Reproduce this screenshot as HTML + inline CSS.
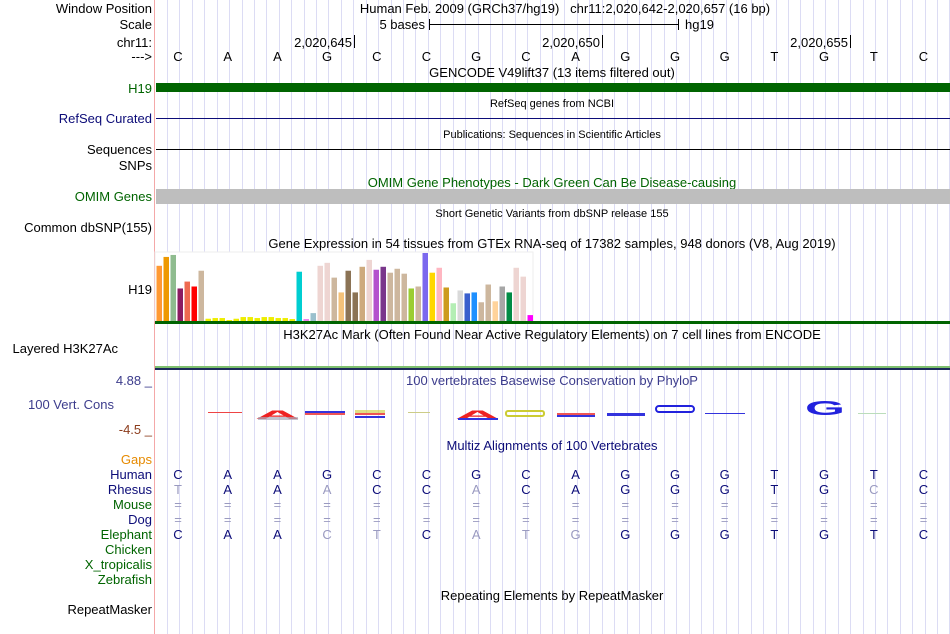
<!DOCTYPE html>
<html><head><meta charset="utf-8"><style>
body{margin:0;background:#fff;}
svg{display:block;font-family:"Liberation Sans",sans-serif;}
.l{font-size:13px;text-anchor:end;}
.t{font-size:13px;text-anchor:middle;}
.s{font-size:11px;text-anchor:middle;}
.b{font-size:13px;text-anchor:middle;}
</style></head><body>
<svg id="c" width="950" height="634">
<g id="grid"></g>
<line x1="154.5" y1="0" x2="154.5" y2="634" stroke="#f4a8a8"/>
<g>
<text class="l" x="152" y="13">Window Position</text>
<text class="l" x="152" y="29">Scale</text>
<text class="l" x="152" y="47">chr11:</text>
<text class="l" x="152" y="61">---&gt;</text>
<text class="l" x="152" y="93" fill="#006400">H19</text>
<text class="l" x="152" y="123" fill="#0c0c78">RefSeq Curated</text>
<text class="l" x="152" y="154">Sequences</text>
<text class="l" x="152" y="170">SNPs</text>
<text class="l" x="152" y="201" fill="#006400">OMIM Genes</text>
<text class="l" x="152" y="232">Common dbSNP(155)</text>
<text class="l" x="152" y="294">H19</text>
<text class="l" x="118" y="353">Layered H3K27Ac</text>
<text class="l" x="152" y="385" fill="#3c3c8c">4.88 _</text>
<text class="l" x="114" y="409" fill="#3c3c8c">100 Vert. Cons</text>
<text class="l" x="152" y="434" fill="#8c3c1c">-4.5 _</text>
<text class="l" x="152" y="464" fill="#e68a00">Gaps</text>
<text class="l" x="152" y="479" fill="#0c0c78">Human</text>
<text class="l" x="152" y="494" fill="#0c0c78">Rhesus</text>
<text class="l" x="152" y="509" fill="#006400">Mouse</text>
<text class="l" x="152" y="524" fill="#0c0c78">Dog</text>
<text class="l" x="152" y="539" fill="#006400">Elephant</text>
<text class="l" x="152" y="554" fill="#006400">Chicken</text>
<text class="l" x="152" y="569" fill="#006400">X_tropicalis</text>
<text class="l" x="152" y="584" fill="#006400">Zebrafish</text>
<text class="l" x="152" y="614">RepeatMasker</text>
</g>
<g>
<text class="t" x="565" y="13">Human Feb. 2009 (GRCh37/hg19)&#160;&#160;&#160;chr11:2,020,642-2,020,657 (16 bp)</text>
<text x="425" y="29" font-size="13" text-anchor="end">5 bases</text>
<g stroke="#000"><line x1="429.5" y1="19" x2="429.5" y2="30"/><line x1="678.5" y1="19" x2="678.5" y2="30"/><line x1="430" y1="24.5" x2="678" y2="24.5"/></g>
<text x="685" y="29" font-size="13">hg19</text>
<text x="352" y="47" font-size="13" text-anchor="end">2,020,645</text>
<line x1="354.5" y1="35" x2="354.5" y2="48" stroke="#000"/>
<text x="600" y="47" font-size="13" text-anchor="end">2,020,650</text>
<line x1="602.5" y1="35" x2="602.5" y2="48" stroke="#000"/>
<text x="848" y="47" font-size="13" text-anchor="end">2,020,655</text>
<line x1="850.5" y1="35" x2="850.5" y2="48" stroke="#000"/>
<g id="bases"></g>
<text class="t" x="552" y="77">GENCODE V49lift37 (13 items filtered out)</text>
<rect x="156" y="83" width="794" height="9" fill="#006400"/>
<text class="s" x="552" y="107">RefSeq genes from NCBI</text>
<line x1="156" y1="118.5" x2="950" y2="118.5" stroke="#0c0c78"/>
<text class="s" x="552" y="138">Publications: Sequences in Scientific Articles</text>
<line x1="156" y1="149.5" x2="950" y2="149.5" stroke="#000"/>
<text class="t" x="552" y="187" fill="#006400">OMIM Gene Phenotypes - Dark Green Can Be Disease-causing</text>
<rect x="156" y="189" width="794" height="15" fill="#bebebe"/>
<text class="s" x="552" y="217">Short Genetic Variants from dbSNP release 155</text>
<text class="t" x="552" y="248">Gene Expression in 54 tissues from GTEx RNA-seq of 17382 samples, 948 donors (V8, Aug 2019)</text>
<rect x="155" y="252" width="378" height="69" fill="#fff" stroke="#eee"/>
<g id="bars"></g>
<rect x="155" y="321" width="795" height="3" fill="#006400"/>
<text class="t" x="552" y="339">H3K27Ac Mark (Often Found Near Active Regulatory Elements) on 7 cell lines from ENCODE</text>
<rect x="155" y="366" width="795" height="2" fill="#7ec06e"/>
<rect x="155" y="368" width="795" height="2" fill="#1c2a5a"/>
<text class="t" x="552" y="385" fill="#3c3c8c">100 vertebrates Basewise Conservation by PhyloP</text>
<g font-weight="bold">
<rect x="208" y="412" width="34" height="1" fill="#e44"/>
<text x="255" y="419" font-size="12" fill="#e22" textLength="45" lengthAdjust="spacingAndGlyphs">A</text>
<rect x="258" y="417" width="40" height="3" fill="#aab" opacity=".7"/>
<rect x="305" y="411" width="40" height="3" fill="#33d"/><rect x="305" y="413" width="40" height="2" fill="#e55"/>
<rect x="355" y="410" width="30" height="5" fill="#cc3" opacity=".6"/><rect x="355" y="413" width="30" height="2" fill="#e55"/><rect x="355" y="416" width="30" height="2" fill="#33d"/>
<rect x="408" y="412" width="22" height="1" fill="#cc8"/>
<text x="455" y="419" font-size="12" fill="#e22" textLength="45" lengthAdjust="spacingAndGlyphs">A</text>
<rect x="458" y="418" width="40" height="2" fill="#33d"/>
<rect x="506" y="411" width="38" height="5" rx="2" fill="none" stroke="#cc3" stroke-width="2"/>
<rect x="557" y="413" width="38" height="2" fill="#e55"/><rect x="557" y="415" width="38" height="2" fill="#33d"/>
<rect x="607" y="413" width="38" height="3" fill="#33d"/>
<rect x="656" y="406" width="38" height="6" rx="3" fill="none" stroke="#22d" stroke-width="2"/>
<rect x="705" y="413" width="40" height="1" fill="#33d"/>
<text x="805" y="415" font-size="20" fill="#22d" textLength="40" lengthAdjust="spacingAndGlyphs">G</text>
<rect x="858" y="413" width="28" height="1" fill="#bdb"/>
</g>
<text class="t" x="552" y="450" fill="#0c0c78">Multiz Alignments of 100 Vertebrates</text>
<g id="aln"></g>
<text class="t" x="552" y="600">Repeating Elements by RepeatMasker</text>
</g>
</svg>
<script>
const refBases = ["C","A","A","G","C","C","G","C","A","G","G","G","T","G","T","C"];
const rhesus = ["T","A","A","A","C","C","A","C","A","G","G","G","T","G","C","C"];
const mouse = ["=","=","=","=","=","=","=","=","=","=","=","=","=","=","=","="];
const dog = ["=","=","=","=","=","=","=","=","=","=","=","=","=","=","=","="];
const elephant = ["C","A","A","C","T","C","A","T","G","G","G","G","T","G","T","C"];
const gtexValues = [56,65,67,33,40,35,51,2.3,3,3,1,2.3,4,4,3,4,4,3,3,2,50,2,8,56,59,44,29,51,29,55,62,52,55,49,53,48,33,35,69,49,54,34,18,31,28,29,19,37,20,35,29,54,45,6];
const gtexColors = ["#FF9933","#EE9900","#8FBC8F","#8B1C62","#EE6A50","#FF0000","#CDB79E","#EEEE00","#EEEE00","#EEEE00","#EEEE00","#EEEE00","#EEEE00","#EEEE00","#EEEE00","#EEEE00","#EEEE00","#EEEE00","#EEEE00","#EEEE00","#00CED1","#EE82EE","#9AC0CD","#EED5D2","#EED5D2","#CDB79E","#F4C27A","#8B7355","#8B7355","#CDAA7D","#EED5D2","#B452CD","#7A378B","#CDB79E","#CDB79E","#CDB79E","#9ACD32","#CDB79E","#7B68EE","#FFD700","#FFB6C1","#CD9B1D","#B4EEB4","#D9D9D9","#3A5FCD","#1E90FF","#CDB79E","#CDB79E","#FFD39B","#A6A6A6","#008B45","#EED5D2","#EED5D2","#FF00FF"];
const ns="http://www.w3.org/2000/svg";
const xBase=i=>178+i*49.7;
const grid=document.getElementById('grid');
for(let x=167;x<950;x+=12.42){const l=document.createElementNS(ns,'line');
l.setAttribute('x1',Math.round(x)+.5);l.setAttribute('x2',Math.round(x)+.5);l.setAttribute('y1',0);l.setAttribute('y2',634);l.setAttribute('stroke','#dcdcf4');


grid.appendChild(l);}
function txt(g,x,y,s,fill,name){const t=document.createElementNS(ns,'text');t.setAttribute('x',x);t.setAttribute('y',y);t.setAttribute('class','b');t.setAttribute('fill',fill);t.textContent=s;


g.appendChild(t);}
const bg=document.getElementById('bases');
refBases.forEach((b,i)=>txt(bg,xBase(i),61,b,'#000','ref-base'));
const ag=document.getElementById('aln');
refBases.forEach((b,i)=>txt(ag,xBase(i),479,b,'#0c0c78','human-base'));
rhesus.forEach((b,i)=>txt(ag,xBase(i),494,b,b===refBases[i]?'#0c0c78':'#9a9ac0','rhesus-base'));
mouse.forEach((b,i)=>txt(ag,xBase(i),509,b,'#9a9ac0','mouse-base'));
dog.forEach((b,i)=>txt(ag,xBase(i),524,b,'#9a9ac0','dog-base'));
elephant.forEach((b,i)=>txt(ag,xBase(i),539,b,b===refBases[i]?'#0c0c78':'#9a9ac0','elephant-base'));
const bars=document.getElementById('bars');
const yMax=70, base=321, hPx=69;
gtexValues.forEach((v,i)=>{const r=document.createElementNS(ns,'rect');const h=v/yMax*hPx;
r.setAttribute('x',156.5+i*7);r.setAttribute('width',5.5);r.setAttribute('y',base-h);r.setAttribute('height',h);r.setAttribute('fill',gtexColors[i]);


bars.appendChild(r);});
</script>
</body></html>
